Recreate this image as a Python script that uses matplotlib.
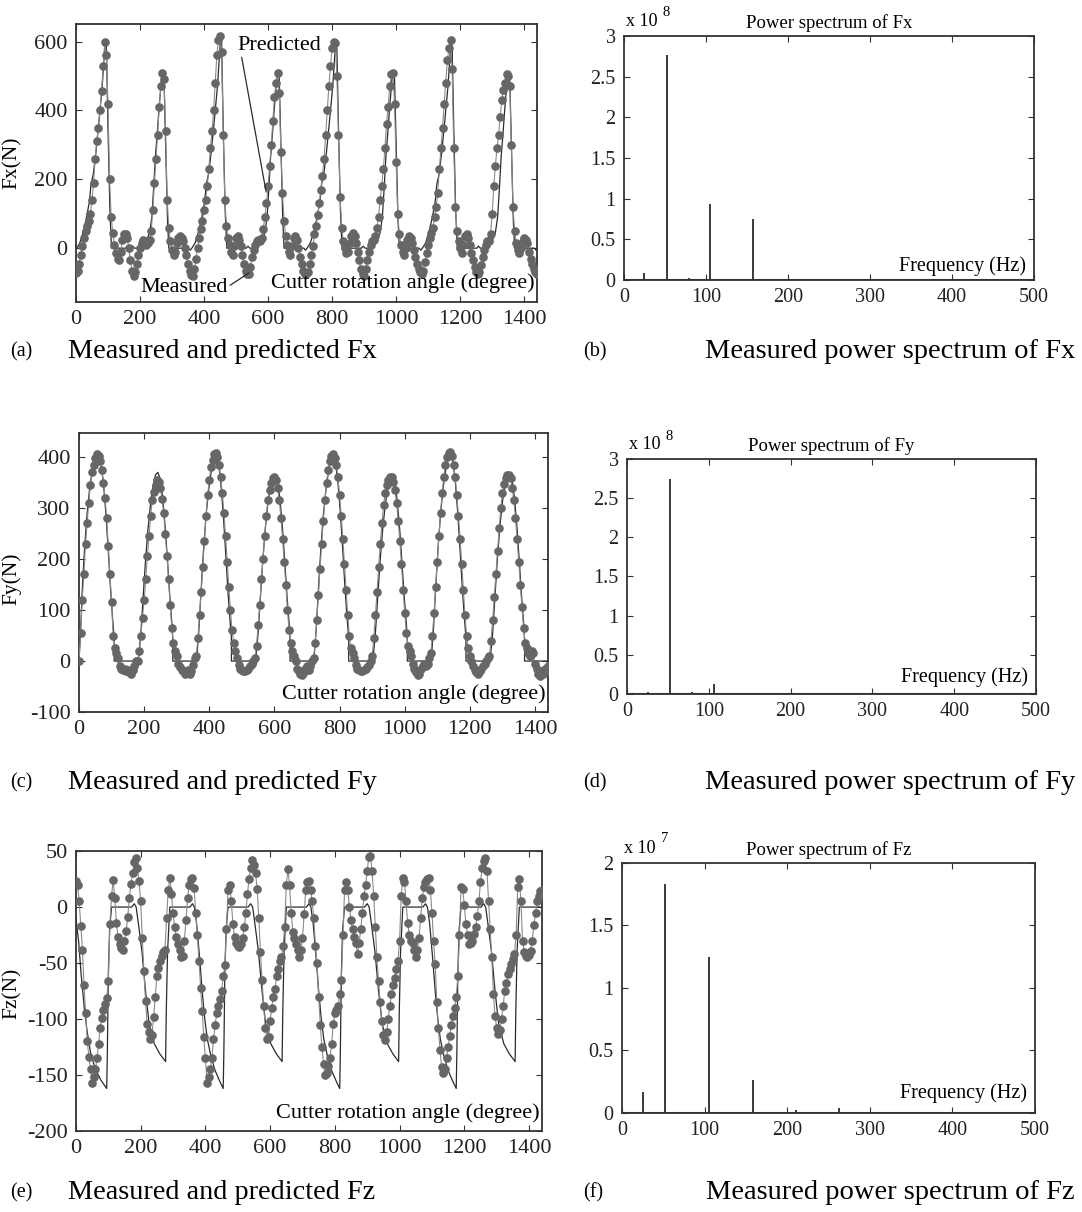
import numpy as np
import matplotlib
matplotlib.use("Agg")
import matplotlib.pyplot as plt
from matplotlib.ticker import FuncFormatter

plt.rcParams["font.family"] = ["Liberation Serif", "DejaVu Serif"]
plt.rcParams["axes.unicode_minus"] = False

ANGLE_STEP = 5  # measured forces sampled every 5 degrees

# measured Fx (N), 0..1440 deg
FX_MEAS = [
    -73, -65, -45, -20, 5, 30, 50, 65, 80, 100, 140, 190, 260, 310, 350, 400, 455, 530,
    600, 560, 420, 200, 90, 45, 10, -15, -30, -35, -10, 25, 40, 42, 30, 0, -35, -65,
    -82, -70, -45, -20, 0, 15, 25, 20, 10, 15, 25, 50, 110, 190, 260, 330, 410, 470,
    510, 490, 340, 140, 60, 20, -5, -20, -10, 15, 30, 35, 30, 20, 0, -20, -45, -65,
    -78, -80, -60, -30, 0, 30, 55, 80, 110, 140, 180, 230, 290, 340, 400, 480, 560, 605,
    615, 570, 330, 140, 65, 30, 10, -10, -20, 5, 30, 35, 25, 5, -20, -45, -65, -75,
    -75, -55, -25, -5, 10, 20, 25, 20, 30, 55, 90, 130, 180, 240, 300, 370, 440, 480,
    510, 450, 280, 160, 80, 35, 10, -10, -20, 5, 30, 35, 25, 0, -25, -45, -65, -75,
    -75, -70, -45, -20, 5, 40, 65, 95, 130, 170, 210, 260, 330, 400, 470, 530, 580, 600,
    595, 500, 330, 150, 60, 20, 0, -15, -10, 15, 35, 45, 35, 15, -10, -35, -60, -75,
    -80, -60, -35, -10, 10, 20, 25, 35, 60, 90, 140, 180, 230, 290, 360, 410, 470, 505,
    510, 420, 250, 100, 40, 10, -10, -20, 0, 25, 35, 30, 15, -5, -25, -45, -60, -70,
    -75, -65, -40, -15, 10, 30, 45, 60, 90, 120, 160, 230, 290, 350, 420, 480, 545, 580,
    605, 520, 290, 120, 50, 20, 0, -15, 10, 35, 40, 30, 10, -15, -35, -55, -70, -75,
    -70, -50, -25, -5, 10, 20, 20, 40, 100, 180, 240, 290, 330, 380, 430, 460, 480, 505,
    500, 470, 300, 120, 50, 15, -5, -15, 0, 20, 30, 25, 15, -10, -30, -45, -60, -70,
    -75,
]

# predicted Fx: (angle deg, force N) breakpoints
FX_PRED = [
    (0, -3), (12, 15), (22, 45), (32, 85), (42, 135), (47, 185), (54, 215), (62, 275),
    (72, 370), (82, 470), (88, 555), (92, 605), (95, 585), (100, 350), (106, 110), (111, 0),
    (172, 0), (177, 6), (183, 0), (197, 0), (217, 15), (230, 45), (237, 90), (243, 180),
    (248, 265), (254, 335), (259, 400), (267, 490), (272, 515), (275, 495), (280, 300),
    (286, 80), (290, 0),
    (352, 0), (357, -6), (362, 0), (372, 15), (382, 45), (392, 85), (402, 135), (407, 185),
    (414, 215), (422, 275), (432, 370), (442, 470), (448, 555), (452, 615), (455, 595),
    (460, 350), (466, 110), (471, 0),
    (532, 0), (537, 6), (543, 0), (557, 0), (577, 15), (590, 45), (597, 90), (603, 180),
    (608, 265), (614, 335), (619, 400), (627, 490), (632, 512), (635, 492), (640, 300),
    (646, 80), (650, 0),
    (712, 0), (717, -6), (722, 0), (732, 15), (742, 45), (752, 85), (762, 135), (767, 185),
    (774, 215), (782, 275), (792, 370), (802, 470), (808, 555), (812, 598), (815, 578),
    (820, 350), (826, 110), (831, 0),
    (892, 0), (897, 6), (903, 0), (917, 0), (937, 15), (950, 45), (957, 90), (963, 180),
    (968, 265), (974, 335), (979, 400), (987, 490), (992, 512), (995, 492), (1000, 300),
    (1006, 80), (1010, 0),
    (1072, 0), (1077, -6), (1082, 0), (1092, 15), (1102, 45), (1112, 85), (1122, 135),
    (1127, 185), (1134, 215), (1142, 275), (1152, 370), (1162, 470), (1168, 555),
    (1172, 605), (1175, 585), (1180, 350), (1186, 110), (1191, 0),
    (1252, 0), (1257, 6), (1263, 0), (1277, 0), (1297, 15), (1310, 45), (1317, 90),
    (1323, 180), (1328, 265), (1334, 335), (1339, 400), (1347, 490), (1352, 508),
    (1355, 488), (1360, 300), (1366, 80), (1370, 0),
    (1432, 0), (1437, -6), (1440, -3),
]

# measured Fy (N)
FY_MEAS = [
    0, 55, 120, 170, 230, 270, 310, 345, 370, 385, 398, 405, 402, 392, 375, 350, 320, 280,
    225, 170, 115, 50, 25, 15, 5, -10, -15, -18, -16, -20, -18, -22, -26, -18, -10, 0,
    0, 20, 50, 85, 120, 160, 205, 245, 285, 315, 332, 345, 355, 352, 340, 318, 290, 250,
    205, 160, 110, 65, 35, 20, 10, -5, -12, -18, -20, -25, -22, -18, -25, -20, -8, 5,
    10, 45, 90, 135, 185, 235, 285, 325, 355, 380, 395, 405, 408, 400, 385, 360, 330, 290,
    245, 195, 145, 100, 60, 35, 20, 5, -8, -15, -18, -20, -20, -18, -15, -10, -5, 0,
    5, 30, 70, 110, 160, 200, 245, 285, 315, 335, 350, 358, 360, 355, 340, 315, 280, 240,
    195, 150, 100, 60, 35, 20, 10, 0, -15, -20, -25, -28, -22, -15, -10, -18, -10, 0,
    5, 35, 80, 130, 180, 230, 275, 315, 350, 375, 392, 402, 405, 398, 385, 360, 325, 285,
    240, 190, 140, 90, 50, 25, 15, 5, -8, -15, -18, -20, -20, -18, -15, -12, -8, 0,
    10, 45, 90, 135, 185, 230, 270, 305, 330, 345, 355, 360, 360, 352, 335, 310, 275, 235,
    190, 140, 95, 55, 30, 20, 10, -5, -15, -22, -28, -25, -15, -10, -5, -10, -5, 5,
    15, 50, 95, 145, 195, 245, 290, 330, 360, 385, 400, 408, 410, 402, 385, 360, 325, 285,
    240, 190, 140, 90, 50, 25, 10, 0, -10, -18, -22, -25, -20, -15, -10, -5, 0, 5,
    10, 40, 80, 125, 170, 215, 260, 300, 330, 348, 358, 365, 365, 358, 340, 315, 280, 240,
    195, 150, 105, 65, 35, 25, 15, 10, 20, 15, -5, -15, -25, -30, -20, -25, -15, -20,
    -10,
]

FY_PRED = [
    (0, 0), (5, 60), (10, 140), (17, 220), (25, 290), (33, 340), (42, 378), (50, 398),
    (58, 405), (66, 392), (75, 350), (83, 285), (90, 215), (97, 140), (103, 85), (108, 45),
    (108, 0), (182, 0),
    (190, 55), (197, 125), (204, 195), (212, 260), (220, 310), (228, 345), (235, 365),
    (242, 370), (249, 358), (257, 320), (265, 260), (272, 195), (279, 125), (285, 75),
    (288, 40), (288, 0), (361, 0),
    (368, 60), (375, 140), (382, 215), (390, 285), (398, 335), (406, 372), (413, 395),
    (420, 408), (427, 395), (435, 352), (443, 287), (450, 216), (457, 140), (463, 85),
    (468, 45), (468, 0), (542, 0),
    (550, 55), (557, 125), (564, 195), (572, 260), (580, 310), (588, 343), (595, 361),
    (602, 366), (609, 354), (617, 318), (625, 258), (632, 193), (639, 124), (645, 75),
    (648, 40), (648, 0), (721, 0),
    (728, 60), (735, 140), (742, 215), (750, 285), (758, 335), (766, 372), (773, 395),
    (780, 405), (787, 392), (795, 350), (803, 285), (810, 215), (817, 140), (823, 85),
    (828, 45), (828, 0), (902, 0),
    (910, 55), (917, 122), (924, 192), (932, 256), (940, 305), (948, 340), (955, 357),
    (962, 362), (969, 350), (977, 314), (985, 255), (992, 190), (999, 122), (1005, 74),
    (1008, 40), (1008, 0), (1081, 0),
    (1088, 60), (1095, 142), (1102, 218), (1110, 288), (1118, 340), (1126, 376),
    (1133, 399), (1140, 410), (1147, 396), (1155, 354), (1163, 288), (1170, 217),
    (1177, 141), (1183, 86), (1188, 46), (1188, 0), (1262, 0),
    (1270, 55), (1277, 126), (1284, 196), (1292, 262), (1300, 312), (1308, 346),
    (1315, 364), (1322, 368), (1329, 356), (1337, 320), (1345, 259), (1352, 194),
    (1359, 125), (1365, 75), (1368, 40), (1368, 0), (1440, 0),
]

# measured Fz (N)
FZ_MEAS = [
    23, 20, 5, -17, -38, -70, -95, -120, -134, -145, -157, -152, -145, -135, -122, -108, -99, -92,
    -87, -81, -66, -15, 10, 24, 8, -14, -27, -33, -37, -38, -30, -21, -9, 8, 21, 30,
    40, 44, 35, 23, 5, -28, -57, -84, -104, -112, -118, -114, -98, -80, -62, -54, -48, -44,
    -40, -38, -10, 15, 26, 12, -5, -18, -27, -33, -38, -45, -44, -30, -12, 8, 20, 25,
    26, 17, -5, -25, -48, -72, -93, -116, -135, -157, -152, -145, -135, -118, -105, -95, -88, -82,
    -75, -62, -52, -20, 15, 20, 5, -15, -27, -32, -35, -36, -33, -28, -18, -5, 12, 25,
    35, 42, 38, 30, 16, -10, -40, -65, -88, -108, -118, -116, -102, -90, -80, -73, -62, -55,
    -48, -45, -35, -18, 20, 34, 20, -5, -22, -28, -33, -38, -45, -38, -28, -6, 15, 22,
    23, 15, 5, -10, -35, -50, -80, -105, -125, -140, -150, -148, -142, -135, -122, -104, -95, -92,
    -88, -78, -65, -25, 15, 22, 15, 0, -12, -20, -27, -32, -42, -32, -20, -5, 10, 20,
    32, 45, 46, 32, 10, -18, -45, -66, -85, -102, -114, -119, -112, -100, -88, -78, -70, -63,
    -55, -48, -30, 10, 26, 22, 5, -14, -25, -30, -32, -38, -45, -38, -28, -10, 8, 18,
    22, 25, 26, 15, -5, -30, -51, -85, -108, -128, -143, -148, -145, -135, -125, -115, -105, -97,
    -90, -80, -62, -25, 18, 16, 2, -15, -25, -33, -32, -30, -24, -18, -8, 5, 22, 35,
    41, 44, 32, 5, -20, -45, -78, -97, -108, -113, -110, -100, -88, -75, -68, -60, -55, -51,
    -46, -42, -25, 18, 25, 5, -30, -40, -44, -45, -43, -39, -30, -16, -5, 5, 10, 14,
    15,
]

FZ_PRED = [
    (0, -10), (8, -30), (16, -60), (25, -88), (34, -110), (45, -130), (60, -145), (78, -155),
    (95, -162), (97, -130), (100, -60), (104, -20), (110, 0), (172, 0), (180, 3),
    (186, 0), (193, -15), (204, -40), (215, -75), (226, -104), (242, -122), (259, -131),
    (277, -138), (279, -95), (283, -40), (290, 0), (352, 0), (360, 3),
    (366, 0), (373, -15), (382, -45), (390, -75), (398, -100), (406, -118), (417, -133),
    (430, -146), (445, -156), (455, -162), (457, -130), (460, -60), (464, -20), (470, 0),
    (532, 0), (540, 3),
    (546, 0), (553, -15), (564, -40), (575, -75), (586, -104), (602, -122), (619, -131),
    (637, -138), (639, -95), (643, -40), (650, 0), (712, 0), (720, 3),
    (726, 0), (733, -15), (742, -45), (750, -75), (758, -100), (766, -118), (777, -133),
    (790, -146), (805, -156), (815, -162), (817, -130), (820, -60), (824, -20), (830, 0),
    (892, 0), (900, 3),
    (906, 0), (913, -15), (924, -40), (935, -75), (946, -104), (962, -122), (979, -131),
    (997, -138), (999, -95), (1003, -40), (1010, 0), (1072, 0), (1080, 3),
    (1086, 0), (1093, -15), (1102, -45), (1110, -75), (1118, -100), (1126, -118),
    (1137, -133), (1150, -146), (1165, -156), (1175, -162), (1177, -130), (1180, -60),
    (1184, -20), (1190, 0), (1252, 0), (1260, 3),
    (1266, 0), (1273, -15), (1284, -40), (1295, -75), (1306, -104), (1322, -122),
    (1339, -131), (1357, -138), (1359, -95), (1363, -40), (1370, 0), (1440, 0),
]

# power spectra: spectral line frequency (Hz) and power
FX_FREQ = [25, 52, 79, 105, 157, 211, 263]
FX_POW = [0.09e8, 2.77e8, 0.03e8, 0.935e8, 0.745e8, 0.015e8, 0.01e8]
FY_FREQ = [26, 52, 79, 106, 158]
FY_POW = [0.02e8, 2.74e8, 0.02e8, 0.13e8, 0.01e8]
FZ_FREQ = [25, 52, 105, 158, 211, 263]
FZ_POW = [0.165e7, 1.835e7, 1.245e7, 0.262e7, 0.02e7, 0.04e7]

MEAS_COLOR = "#666666"
PRED_COLOR = "#2b2b2b"
AX_COLOR = "#333333"


def style(ax, tick_size):
    for s in ax.spines.values():
        s.set_color(AX_COLOR)
        s.set_linewidth(1.3)
    ax.tick_params(direction="in", top=True, right=True, length=4, width=0.8,
                   colors=AX_COLOR, labelcolor="#222222", labelsize=tick_size, pad=6)


def force_panel(rect, meas, pred, ylim, yticks, ylabel, label_xy):
    ax = fig.add_axes(rect)
    ang = np.arange(len(meas)) * ANGLE_STEP
    pa, pv = zip(*pred)
    ax.plot(pa, pv, color=PRED_COLOR, lw=0.9, zorder=2)
    ax.plot(ang, meas, color="#8a8a8a", lw=0.8, marker="o", ms=5.2,
            mfc=MEAS_COLOR, mec=MEAS_COLOR, zorder=3)
    ax.set_xlim(0, 1440)
    ax.set_ylim(*ylim)
    ax.set_xticks(range(0, 1401, 200))
    ax.set_yticks(yticks)
    ax.set_ylabel(ylabel, fontsize=15.5)
    ax.yaxis.set_label_coords(*label_xy)
    ax.text(0.995, 0.065, "Cutter rotation angle (degree)", transform=ax.transAxes,
            ha="right", va="center", fontsize=16)
    style(ax, 16)
    return ax


def spectrum_panel(rect, freq, power, scale, exp, ymax, title, freq_y):
    ax = fig.add_axes(rect)
    ax.vlines(freq, 0, power, color=PRED_COLOR, lw=1.3)
    ax.axhline(0, color=PRED_COLOR, lw=2.2)
    ax.set_xlim(0, 500)
    ax.set_ylim(0, ymax * scale)
    ax.set_xticks(range(0, 501, 100))
    ax.set_yticks(np.arange(0, ymax + 0.01, 0.5) * scale)
    ax.yaxis.set_major_formatter(FuncFormatter(lambda v, _: f"{v / scale:g}"))
    ax.set_title(title, fontsize=13.5, pad=6)
    ax.text(0.005, 1.025, "x 10", transform=ax.transAxes, ha="left", va="bottom", fontsize=13)
    ax.text(0.095, 1.07, exp, transform=ax.transAxes, ha="left", va="bottom", fontsize=10.5)
    ax.text(0.98, freq_y, "Frequency (Hz)", transform=ax.transAxes,
            ha="right", va="center", fontsize=14.5)
    style(ax, 14.5)
    return ax


fig = plt.figure(figsize=(10.82, 12.12), dpi=100)

ax_a = force_panel([0.0702, 0.7512, 0.4261, 0.2290], FX_MEAS, FX_PRED, (-155, 651),
                   [0, 200, 400, 600], "Fx(N)", (-0.117, 0.5))
ax_a.annotate("Predicted", xy=(594, 163), xytext=(503, 590), fontsize=16,
              va="center", ha="left",
              arrowprops=dict(arrowstyle="-", color=PRED_COLOR, lw=0.9, shrinkA=0, shrinkB=0,
                              relpos=(0.05, 0.0)))
ax_a.annotate("Measured", xy=(540, -72), xytext=(200, -113), fontsize=16,
              va="center", ha="left",
              arrowprops=dict(arrowstyle="-", color=PRED_COLOR, lw=0.9, shrinkA=0, shrinkB=0,
                              relpos=(1.0, 0.5)))

force_panel([0.0730, 0.4125, 0.4335, 0.2302], FY_MEAS, FY_PRED, (-100, 447),
            range(-100, 401, 100), "Fy(N)", (-0.122, 0.477))
force_panel([0.0702, 0.0668, 0.4307, 0.2310], FZ_MEAS, FZ_PRED, (-200, 50),
            range(-200, 51, 50), "Fz(N)", (-0.116, 0.49))

spectrum_panel([0.5767, 0.7690, 0.3789, 0.2013], FX_FREQ, FX_POW, 1e8, "8", 3,
               "Power spectrum of Fx", 0.055)
spectrum_panel([0.5795, 0.4274, 0.3780, 0.1939], FY_FREQ, FY_POW, 1e8, "8", 3,
               "Power spectrum of Fy", 0.072)
spectrum_panel([0.5749, 0.0817, 0.3817, 0.2063], FZ_FREQ, FZ_POW, 1e7, "7", 2,
               "Power spectrum of Fz", 0.08)

captions = [
    ("(a)", "Measured and predicted Fx", 0.7096, "left"),
    ("(b)", "Measured power spectrum of Fx", 0.7096, "right"),
    ("(c)", "Measured and predicted Fy", 0.354, "left"),
    ("(d)", "Measured power spectrum of Fy", 0.354, "right"),
    ("(e)", "Measured and predicted Fz", 0.0157, "left"),
    ("(f)", "Measured power spectrum of Fz", 0.0157, "right"),
]
for tag, text, y, side in captions:
    if side == "left":
        fig.text(0.009, y, tag, fontsize=14.5, va="center")
        fig.text(0.063, y, text, fontsize=20.3, va="center")
    else:
        fig.text(0.539, y, tag, fontsize=14.5, va="center")
        fig.text(0.9935, y, text, fontsize=20.5, va="center", ha="right")

fig.savefig("out.png", dpi=100)
